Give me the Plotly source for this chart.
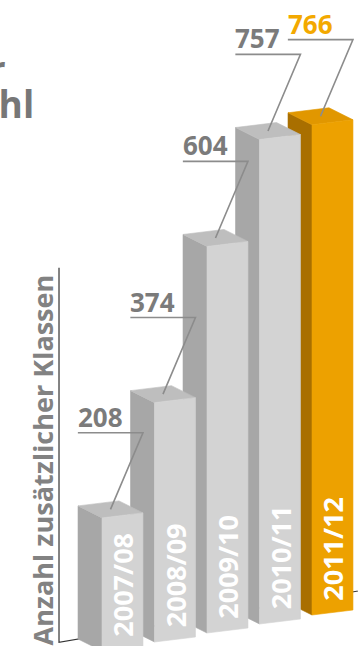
import plotly.graph_objects as go

# ---------------- data ----------------
years = ["2007/08", "2008/09", "2009/10", "2010/11", "2011/12"]
values = [208, 374, 604, 757, 766]
highlight = [False, False, False, False, True]
axis_title = "Anzahl zusätzlicher Klassen"
title_line1 = "Entwicklung der"
title_line2 = "Klassenzahl"

# ---------------- style / perspective parameters ----------------
W = 0.78        # width of a bar's front face (category units)
DX = -0.457     # depth offset, x (category units)
DY = 18.75      # depth offset, y (value units)
FLOOR = 14.06   # rise of the floor per category step (value units)
EDGE = 7.8      # rise of front edges across one face (value units)
LABEL_GAP = 133 # gap from bar top to label underline (value units)
UL_LEN = 1.24   # underline length (category units)
YEAR_GAP = 16   # gap from bar bottom to year label (value units)
AXIS_TOP = 585  # height of the back wall line (value units)

GRAY = dict(front="#d3d3d3", side="#a7a7a7", top="#bebebe")
ORANGE = dict(front="#eda100", side="#a96f00", top="#e19700")
LABEL_GRAY = "#7b7b7b"
LABEL_ORANGE = "#f3a900"
LEADER = "#8c8c8c"

fig = go.Figure()


def poly(xs, ys, color):
    fig.add_trace(go.Scatter(
        x=xs + [xs[0]], y=ys + [ys[0]], mode="lines", fill="toself",
        fillcolor=color, line=dict(color=color, width=0.6),
        hoverinfo="skip", showlegend=False))


# back wall / floor lines
x_wall = DX + (-0.362)
floor_y0 = DY + FLOOR * (x_wall - DX)
x_end = 5.2
floor_y1 = DY + FLOOR * (x_end - DX)
fig.add_trace(go.Scatter(
    x=[x_wall, x_wall, x_end], y=[floor_y0 + AXIS_TOP, floor_y0, floor_y1],
    mode="lines", line=dict(color="#333333", width=1.2),
    hoverinfo="skip", showlegend=False))

# bars (draw from right to left so left bars sit in front)
for i in reversed(range(len(values))):
    v = values[i]
    b = FLOOR * i
    c = ORANGE if highlight[i] else GRAY
    poly([i + DX, i, i, i + DX], [b + DY, b, b + v, b + v + DY], c["side"])
    poly([i, i + W, i + W + DX, i + DX],
         [b + v, b + v + EDGE, b + v + EDGE + DY, b + v + DY], c["top"])
    poly([i, i + W, i + W, i], [b, b + EDGE, b + EDGE + v, b + v], c["front"])

annotations = []
for i, (yr, v) in enumerate(zip(years, values)):
    b = FLOOR * i
    y_ul = b + v + LABEL_GAP
    x0 = i + W - UL_LEN
    # underline + leader line
    fig.add_trace(go.Scatter(
        x=[x0, i + W, i + W / 2 + DX / 2],
        y=[y_ul, y_ul, b + v + EDGE / 2 + DY / 2],
        mode="lines", line=dict(color=LEADER, width=1.6),
        hoverinfo="skip", showlegend=False))
    annotations.append(dict(
        x=x0, y=y_ul, xref="x", yref="y", text=f"<b>{v}</b>", showarrow=False,
        xanchor="left", yanchor="bottom", yshift=-4, xshift=-2,
        font=dict(family="Open Sans", size=26,
                  color=LABEL_ORANGE if highlight[i] else LABEL_GRAY)))
    annotations.append(dict(
        x=i + W / 2, y=b + EDGE / 2 + YEAR_GAP, xref="x", yref="y",
        text=f"<b>{yr}</b>", showarrow=False, textangle=-90,
        xanchor="center", yanchor="bottom",
        font=dict(family="Open Sans", size=27, color="white")))

annotations.append(dict(
    x=42 / 358, y=1 - 273 / 646, xref="paper", yref="paper",
    text=f"<b>{axis_title}</b>", showarrow=False, textangle=-90,
    xanchor="center", yanchor="top",
    font=dict(family="Open Sans", size=27, color="#828282")))
annotations.append(dict(
    x=7 / 358, y=1 - 68 / 646, xref="paper", yref="paper",
    text=f"<b>{title_line1}</b>", showarrow=False,
    xanchor="right", yanchor="middle",
    font=dict(family="Open Sans", size=36, color="#777777")))
annotations.append(dict(
    x=36 / 358, y=1 - 103 / 646, xref="paper", yref="paper",
    text=f"<b>{title_line2}</b>", showarrow=False,
    xanchor="right", yanchor="middle",
    font=dict(family="Open Sans", size=37, color="#777777")))

fig.update_layout(
    width=358, height=646, margin=dict(l=0, r=0, t=0, b=0),
    paper_bgcolor="white", plot_bgcolor="white",
    xaxis=dict(range=[-1.943, 4.876], visible=False, fixedrange=True),
    yaxis=dict(range=[7.8, 1017.2], visible=False, fixedrange=True),
    annotations=annotations, showlegend=False)

fig.write_html("out.html")
